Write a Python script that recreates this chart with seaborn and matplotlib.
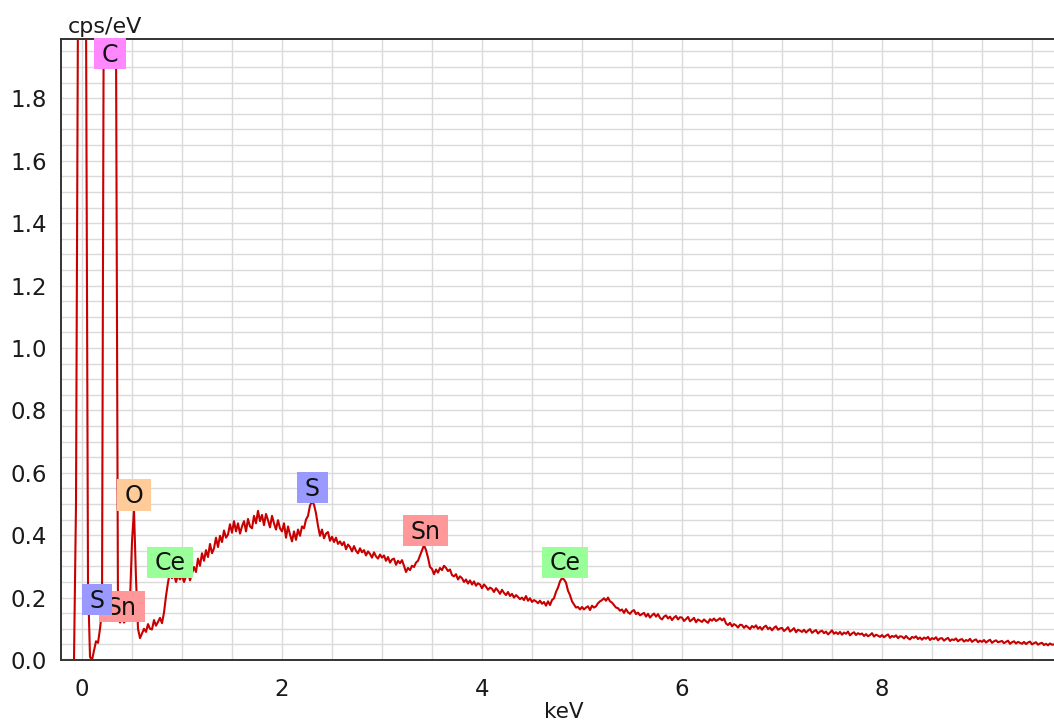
import numpy as np
import pandas as pd
import matplotlib
matplotlib.use("Agg")
import matplotlib.pyplot as plt
from matplotlib.path import Path
from matplotlib.ticker import MultipleLocator, FormatStrFormatter
import seaborn as sns

# Detector calibration: energy of the first channel and channel width (keV)
KEV_START = -0.20
KEV_STEP = 0.02

# Spectrum intensity per channel (cps/eV), one row per 0.2 keV
cps_per_ev = [
    0.0, 0.0, 0.0, 0.0, 0.0, 0.0, 0.0, 0.5, 2.1, 12.0,                        # -0.20
    40.0, 12.0, 2.1, 0.25, 0.01, 0.0, 0.03, 0.06, 0.055, 0.10,                # 0.00
    0.16, 2.4, 6.5, 9.0, 8.0, 5.0, 3.2, 2.0, 0.14, 0.12,                      # 0.20
    0.135, 0.12, 0.13, 0.14, 0.19, 0.38, 0.48, 0.26, 0.10, 0.07,              # 0.40
    0.085, 0.10, 0.09, 0.115, 0.10, 0.098, 0.128, 0.11, 0.122, 0.135,        # 0.60
    0.118, 0.152, 0.205, 0.248, 0.282, 0.262, 0.275, 0.25, 0.272, 0.258,     # 0.80
    0.272, 0.25, 0.268, 0.285, 0.255, 0.278, 0.298, 0.282, 0.325, 0.302,     # 1.00
    0.342, 0.318, 0.352, 0.33, 0.372, 0.342, 0.358, 0.392, 0.362, 0.398,     # 1.20
    0.378, 0.415, 0.392, 0.402, 0.435, 0.408, 0.445, 0.412, 0.438, 0.405,    # 1.40
    0.428, 0.445, 0.412, 0.452, 0.428, 0.422, 0.462, 0.438, 0.478, 0.445,    # 1.60
    0.465, 0.432, 0.468, 0.448, 0.425, 0.462, 0.438, 0.418, 0.448, 0.422,    # 1.80
    0.412, 0.438, 0.392, 0.428, 0.402, 0.38, 0.412, 0.385, 0.418, 0.398,     # 2.00
    0.428, 0.422, 0.45, 0.462, 0.495, 0.508, 0.498, 0.47, 0.43, 0.398,       # 2.20
    0.418, 0.39, 0.405, 0.41, 0.382, 0.395, 0.378, 0.392, 0.372, 0.38,       # 2.40
    0.368, 0.378, 0.355, 0.37, 0.362, 0.348, 0.365, 0.35, 0.342, 0.358,      # 2.60
    0.345, 0.352, 0.335, 0.348, 0.34, 0.328, 0.345, 0.332, 0.325, 0.338,     # 2.80
    0.328, 0.335, 0.318, 0.33, 0.312, 0.322, 0.325, 0.305, 0.318, 0.31,      # 3.00
    0.32, 0.302, 0.282, 0.295, 0.288, 0.302, 0.298, 0.312, 0.318, 0.335,     # 3.20
    0.352, 0.368, 0.352, 0.328, 0.298, 0.292, 0.275, 0.29, 0.28, 0.295,      # 3.40
    0.288, 0.302, 0.295, 0.285, 0.29, 0.272, 0.268, 0.275, 0.258, 0.268,     # 3.60
    0.262, 0.25, 0.258, 0.245, 0.255, 0.242, 0.252, 0.238, 0.246, 0.242,     # 3.80
    0.23, 0.242, 0.235, 0.225, 0.232, 0.228, 0.218, 0.23, 0.222, 0.212,      # 4.00
    0.225, 0.215, 0.208, 0.218, 0.205, 0.212, 0.20, 0.208, 0.202, 0.195,     # 4.20
    0.20, 0.192, 0.205, 0.19, 0.198, 0.186, 0.192, 0.188, 0.182, 0.19,       # 4.40
    0.18, 0.186, 0.174, 0.188, 0.176, 0.192, 0.198, 0.218, 0.232, 0.252,     # 4.60
    0.262, 0.258, 0.248, 0.222, 0.208, 0.188, 0.178, 0.168, 0.17, 0.162,     # 4.80
    0.17, 0.162, 0.168, 0.172, 0.16, 0.174, 0.168, 0.172, 0.182, 0.188,      # 5.00
    0.192, 0.198, 0.19, 0.20, 0.188, 0.184, 0.176, 0.168, 0.166, 0.158,      # 5.20
    0.162, 0.151, 0.163, 0.153, 0.148, 0.156, 0.160, 0.147, 0.152, 0.143,    # 5.40
    0.147, 0.151, 0.139, 0.148, 0.136, 0.143, 0.149, 0.139, 0.147, 0.135,    # 5.60
    0.130, 0.139, 0.143, 0.133, 0.139, 0.128, 0.136, 0.141, 0.130, 0.137,    # 5.80
    0.136, 0.125, 0.131, 0.138, 0.124, 0.129, 0.135, 0.121, 0.130, 0.126,    # 6.00
    0.122, 0.130, 0.124, 0.119, 0.131, 0.126, 0.133, 0.125, 0.129, 0.134,    # 6.20
    0.127, 0.133, 0.117, 0.112, 0.119, 0.108, 0.115, 0.111, 0.104, 0.113,    # 6.40
    0.112, 0.103, 0.110, 0.105, 0.099, 0.109, 0.104, 0.111, 0.100, 0.106,    # 6.60
    0.097, 0.106, 0.110, 0.099, 0.104, 0.095, 0.103, 0.108, 0.097, 0.101,    # 6.80
    0.103, 0.093, 0.098, 0.105, 0.091, 0.096, 0.102, 0.089, 0.097, 0.094,    # 7.00
    0.090, 0.097, 0.088, 0.094, 0.099, 0.087, 0.092, 0.096, 0.085, 0.091,    # 7.20
    0.094, 0.086, 0.091, 0.082, 0.088, 0.095, 0.084, 0.089, 0.083, 0.090,    # 7.40
    0.081, 0.088, 0.084, 0.091, 0.079, 0.085, 0.089, 0.080, 0.086, 0.082,    # 7.60
    0.085, 0.077, 0.083, 0.076, 0.080, 0.086, 0.075, 0.081, 0.078, 0.074,    # 7.80
    0.080, 0.073, 0.078, 0.082, 0.071, 0.077, 0.074, 0.079, 0.070, 0.076,    # 8.00
    0.075, 0.069, 0.077, 0.070, 0.066, 0.074, 0.071, 0.076, 0.067, 0.072,    # 8.20
    0.065, 0.072, 0.068, 0.074, 0.064, 0.070, 0.067, 0.073, 0.063, 0.069,    # 8.40
    0.070, 0.062, 0.067, 0.071, 0.061, 0.066, 0.064, 0.069, 0.060, 0.065,    # 8.60
    0.067, 0.059, 0.064, 0.061, 0.068, 0.058, 0.063, 0.066, 0.057, 0.062,    # 8.80
    0.058, 0.064, 0.056, 0.061, 0.065, 0.055, 0.060, 0.063, 0.057, 0.059,    # 9.00
    0.061, 0.054, 0.058, 0.062, 0.052, 0.057, 0.060, 0.053, 0.058, 0.055,    # 9.20
    0.052, 0.058, 0.051, 0.056, 0.059, 0.050, 0.054, 0.057, 0.049, 0.053,    # 9.40
    0.055, 0.048, 0.052, 0.047, 0.053, 0.049, 0.050,                         # 9.60
]

energy_kev = KEV_START + KEV_STEP * np.arange(len(cps_per_ev))

# Element identification tags: element, energy (keV), tag height (cps/eV)
peak_elements = ["C", "O", "Sn", "S", "Ce", "S", "Sn", "Ce"]
peak_kev = [0.28, 0.52, 0.40, 0.15, 0.88, 2.305, 3.435, 4.83]
peak_cps = [1.94, 0.525, 0.168, 0.19, 0.31, 0.548, 0.41, 0.31]

element_colors = {
    "C": "#ff88ff",
    "O": "#ffcc99",
    "S": "#9999ff",
    "Sn": "#ff9999",
    "Ce": "#99ff99",
}


def tag_box(x0, y0, width, height, mutation_size):
    """Rectangle with wide side padding and the text optically centred."""
    px = 0.32 * mutation_size
    x_left = x0 - px
    x_right = x0 + width + px
    y_bottom = y0 - 0.10 * mutation_size
    y_top = y0 + height + 0.20 * mutation_size
    return Path([(x_left, y_bottom), (x_right, y_bottom), (x_right, y_top),
                 (x_left, y_top), (x_left, y_bottom)], closed=True)


sns.set_style("white")
plt.rcParams["font.family"] = ["DejaVu Sans"]

fig = plt.figure(figsize=(10.54, 7.22), dpi=100)
ax = fig.add_axes([61 / 1054, 62 / 722, 993 / 1054, 621 / 722])

spectrum = pd.DataFrame({"keV": energy_kev, "cps/eV": cps_per_ev})
sns.lineplot(data=spectrum, x="keV", y="cps/eV", ax=ax, color="#c80000",
             linewidth=1.5, estimator=None, zorder=3)

ax.set_xlim(-0.21, 9.72)
ax.set_ylim(0, 1.99)

ax.xaxis.set_major_locator(MultipleLocator(2))
ax.xaxis.set_minor_locator(MultipleLocator(0.5))
ax.yaxis.set_major_locator(MultipleLocator(0.2))
ax.yaxis.set_minor_locator(MultipleLocator(0.05))
ax.yaxis.set_major_formatter(FormatStrFormatter("%.1f"))

ax.grid(which="both", color="#dadada", linewidth=1.0)
ax.set_axisbelow(True)

ax.tick_params(axis="both", which="major", direction="out", length=9,
               width=1.3, color="#333333", labelsize=16.5,
               labelcolor="#1a1a1a")
ax.tick_params(axis="both", which="minor", direction="out", length=5.8,
               width=1.3, color="#333333")
ax.tick_params(axis="y", which="major", pad=1.2)
ax.tick_params(axis="x", which="major", pad=4)

for side in ("top", "left", "bottom"):
    ax.spines[side].set_color("#333333")
    ax.spines[side].set_linewidth(1.4)
ax.spines["right"].set_visible(False)

ax.set_ylabel("")
ax.set_xlabel("keV", fontsize=15.5, color="#1a1a1a")
ax.xaxis.set_label_coords(0.506, -0.068)
fig.text(68 / 1054, 1 - 33 / 722, "cps/eV", fontsize=16, ha="left",
         va="baseline", color="#1a1a1a")

for element, k, c in zip(peak_elements, peak_kev, peak_cps):
    ax.text(k, c, element, ha="center", va="center", fontsize=17,
            color="#111111", zorder=5,
            bbox=dict(boxstyle=tag_box, facecolor=element_colors[element],
                      edgecolor="none"))

fig.savefig("out.png", dpi=100)
